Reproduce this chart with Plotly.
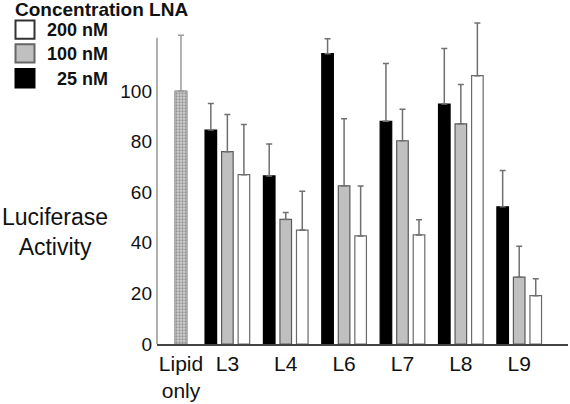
import plotly.graph_objects as go

# ---------------- data ----------------
categories = ["Lipid only", "L3", "L4", "L6", "L7", "L8", "L9"]
tick_labels = ["Lipid<br>only", "L3", "L4", "L6", "L7", "L8", "L9"]
lnas = ["L3", "L4", "L6", "L7", "L8", "L9"]

lipid_value = [100]
lipid_err = [22]

nm25 = [84.5, 66.4, 114.7, 88.0, 94.8, 54.2]
nm25_err = [10.5, 12.6, 5.9, 22.8, 21.9, 14.3]

nm100 = [76.0, 49.2, 62.5, 80.3, 87.0, 26.4]
nm100_err = [14.7, 2.8, 26.5, 12.4, 15.5, 12.2]

nm200 = [66.9, 45.0, 42.7, 43.1, 106.0, 19.1]
nm200_err = [19.8, 15.3, 19.7, 6.0, 20.8, 6.7]

y_ticks = [0, 20, 40, 60, 80, 100]
y_axis_top = 121
legend_title = "Concentration LNA"
legend_labels = ["200 nM", "100 nM", "25 nM"]

# ---------------- layout geometry ----------------
W, H = 570, 404
ML, MR, MT, MB = 157, 2, 20, 57
PW, PH = W - ML - MR, H - MT - MB


def px2x(px):
    return (px - ML) / PW


def px2y(py):
    return (H - MB - py) / PH


FONT = "Liberation Sans, Arial, Helvetica, sans-serif"
lipid_offset, lipid_width = 0.1, 0.21

fig = go.Figure()

fig.add_trace(go.Bar(
    x=categories[:1], y=lipid_value,
    offset=lipid_offset, width=lipid_width,
    marker=dict(color="#c8c8c8",
                line=dict(color="#8a8a8a", width=1),
                pattern=dict(shape=".", fgcolor="#555555", bgcolor="#d2d2d2",
                             size=3, solidity=0.45)),
    error_y=dict(type="data", symmetric=False, array=lipid_err, arrayminus=[0],
                 color="#9a9a9a", thickness=1.5, width=3),
    cliponaxis=False, showlegend=False,
))

series = [
    (nm25, nm25_err, "#000000", "#000000"),
    (nm100, nm100_err, "#c0c0c0", "#5a5a5a"),
    (nm200, nm200_err, "#ffffff", "#6a6a6a"),
]
for vals, errs, fill, edge in series:
    fig.add_trace(go.Bar(
        x=lnas, y=vals,
        marker=dict(color=fill, line=dict(color=edge, width=1.2)),
        error_y=dict(type="data", symmetric=False, array=errs,
                     arrayminus=[0] * len(errs),
                     color="#707070", thickness=1.5, width=3),
        cliponaxis=False, showlegend=False,
    ))

tickvals = [lipid_offset + lipid_width / 2] + list(range(1, len(categories)))

fig.update_layout(
    width=W, height=H, autosize=False,
    margin=dict(l=ML, r=MR, t=MT, b=MB, pad=0),
    paper_bgcolor="white", plot_bgcolor="white",
    barmode="group", bargap=0.15, bargroupgap=0.3,
    font=dict(family=FONT, color="#111111"),
    showlegend=False,
    xaxis=dict(
        type="category", categoryorder="array", categoryarray=categories,
        range=[-0.2056, 6.836],
        tickmode="array", tickvals=tickvals, ticktext=tick_labels,
        tickfont=dict(size=21, family=FONT, color="#111111"),
        showline=True, linecolor="#444444", linewidth=1.5,
        showgrid=False, zeroline=False, ticks="",
    ),
    yaxis=dict(
        range=[0, 128],
        tickmode="array", tickvals=y_ticks,
        tickfont=dict(size=19, family=FONT, color="#111111"),
        ticklabelstandoff=4,
        showline=False,
        showgrid=False, zeroline=False, ticks="",
    ),
)

# y axis line (stops at the axis top, error bars may go above)
fig.add_shape(type="line", xref="paper", yref="y",
              x0=0, x1=0, y0=0, y1=y_axis_top,
              line=dict(color="#b0b0b0", width=2), layer="below")

# y-axis title (horizontal)
fig.add_annotation(
    xref="paper", yref="paper", x=px2x(55), y=px2y(234),
    xanchor="center", yanchor="middle",
    text="Luciferase<br>Activity", showarrow=False,
    font=dict(size=23, family=FONT, color="#111111"),
)

# custom legend
fig.add_annotation(
    xref="paper", yref="paper", x=px2x(13), y=px2y(9),
    xanchor="left", yanchor="middle",
    text="<b>%s</b>" % legend_title, showarrow=False,
    font=dict(size=19, family=FONT, color="#111111"),
)
legend_fills = ["#ffffff", "#c0c0c0", "#000000"]
legend_edges = ["#333333", "#666666", "#000000"]
box_tops = [20, 44, 69]
for lab, fill, edge, top in zip(legend_labels, legend_fills, legend_edges, box_tops):
    fig.add_shape(
        type="rect", xref="paper", yref="paper",
        x0=px2x(15.5), x1=px2x(34.5), y0=px2y(top + 0.5), y1=px2y(top + 19),
        fillcolor=fill, line=dict(color=edge, width=2), layer="above",
    )
    fig.add_annotation(
        xref="paper", yref="paper", x=px2x(110), y=px2y(top + 10.5),
        xanchor="right", yanchor="middle",
        text="<b>%s</b>" % lab, showarrow=False,
        font=dict(size=18, family=FONT, color="#111111"),
    )

fig.write_html(
    "out.html",
    config={"displayModeBar": False},
    post_script="document.body.style.margin='0';document.body.style.overflow='hidden';",
)
